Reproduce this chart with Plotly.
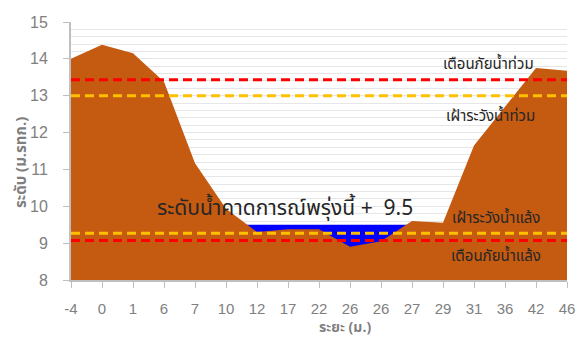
import plotly.graph_objects as go

# Cross-section stations (distance, m) and ground elevation (m MSL)
stations = ["-4", "0", "1", "6", "7", "10", "12", "17", "22", "26", "26", "27", "29", "31", "36", "42", "46"]
ground = [14.0, 14.38, 14.15, 13.38, 11.17, 9.93, 9.3, 9.38, 9.38, 8.9, 9.05, 9.6, 9.55, 11.65, 12.7, 13.75, 13.68]

# Forecast water level for tomorrow and threshold levels
forecast = 9.5
flood_warning = 13.43
flood_watch = 13.0
drought_watch = 9.27
drought_warning = 9.07

y_ticks = [8, 9, 10, 11, 12, 13, 14, 15]

xi = list(range(len(stations)))
THAI = "Tahoma, 'Noto Sans Thai', 'Leelawadee UI', 'DejaVu Sans', sans-serif"
NUM = "'Liberation Sans', Arial, sans-serif"

fig = go.Figure()

# water surface (drawn first so the ground covers it)
fig.add_trace(go.Scatter(x=xi, y=[forecast] * len(xi), mode="lines",
                         line=dict(width=0, color="#0000FF"),
                         fill="tozeroy", fillcolor="#0000FF", hoverinfo="skip"))
# ground profile
fig.add_trace(go.Scatter(x=xi, y=ground, mode="lines",
                         line=dict(width=0, color="#C55A11"),
                         fill="tozeroy", fillcolor="#C55A11"))

for lvl, col in [(flood_warning, "#FF0000"), (flood_watch, "#FFC000"),
                 (drought_watch, "#FFC000"), (drought_warning, "#FF0000")]:
    fig.add_trace(go.Scatter(x=[xi[0], xi[-1]], y=[lvl, lvl], mode="lines",
                             line=dict(color=col, width=3, dash="9px,5px")))

ann_font = dict(family=THAI, size=15, color="#262626")
annotations = [
    dict(x=13.47, y=13.84, text="เตือนภัยน้ำท่วม", font=ann_font),
    dict(x=13.53, y=12.43, text="เฝ้าระวังน้ำท่วม", font=ann_font),
    dict(x=6.9, y=9.93, text=f"ระดับน้ำคาดการณ์พรุ่งนี้ +  {forecast}",
         font=dict(family=THAI, size=21, color="#262626")),
    dict(x=13.72, y=9.66, text="เฝ้าระวังน้ำแล้ง", font=ann_font),
    dict(x=13.72, y=8.63, text="เตือนภัยน้ำแล้ง", font=ann_font),
]
for a in annotations:
    a.update(xref="x", yref="y", showarrow=False, xanchor="center", yanchor="middle")

title_font = dict(family=THAI, size=15, color="#7F7F7F")
annotations += [
    dict(xref="paper", yref="paper", x=-0.1, y=0.455, text="<b>ระดับ (ม.รทก.)</b>",
         textangle=-90, showarrow=False, font=title_font, xanchor="center", yanchor="middle"),
    dict(xref="paper", yref="paper", x=0.553, y=-0.233, text="<b>ระยะ (ม.)</b>",
         showarrow=False, font=dict(family=THAI, size=14, color="#7F7F7F"),
         xanchor="center", yanchor="bottom"),
]

fig.update_layout(
    width=587, height=340,
    margin=dict(l=71, r=17, t=22, b=60),
    paper_bgcolor="white", plot_bgcolor="white",
    showlegend=False,
    annotations=annotations,
)
fig.update_xaxes(
    range=[0, len(stations) - 1], tickmode="array", tickvals=xi, ticktext=stations,
    showgrid=False, zeroline=False,
    showline=True, linecolor="#BFBFBF", linewidth=2,
    ticks="outside", ticklen=6, tickcolor="#BFBFBF", tickwidth=1,
    ticklabelstandoff=8,
    tickfont=dict(family=NUM, size=15, color="#808080"),
)
fig.update_yaxes(
    range=[8, 15], tickmode="array", tickvals=y_ticks,
    showgrid=True, gridcolor="#E6E6E6", gridwidth=1, zeroline=False,
    minor=dict(dtick=0.2, showgrid=True, gridcolor="#E6E6E6", gridwidth=1),
    showline=True, linecolor="#BFBFBF", linewidth=2,
    ticks="outside", ticklen=6, tickcolor="#BFBFBF", tickwidth=1,
    ticklabelstandoff=12,
    tickfont=dict(family=NUM, size=16, color="#808080"),
)

fig.write_html("out.html")
